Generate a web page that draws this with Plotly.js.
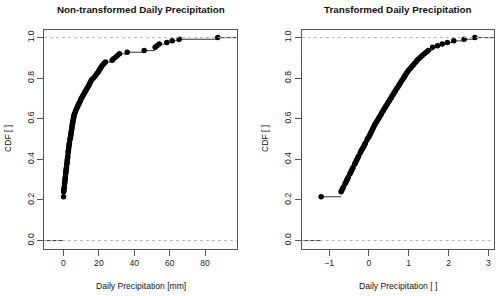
<!DOCTYPE html>
<html>
<head>
<meta charset="utf-8">
<script src="https://cdn.plot.ly/plotly-3.0.1.min.js"></script>
<style>html,body{margin:0;padding:0;background:#fff;}#chart{width:500px;height:296px;}</style>
</head>
<body>
<div id="chart"></div>
<script>
// ECDF levels (shared, transform is monotone)
const cdfLevels = [0.216, 0.240, 0.248, 0.256, 0.264, 0.280, 0.288, 0.296, 0.304, 0.312,
  0.328, 0.336, 0.344, 0.352, 0.360, 0.376, 0.384, 0.392, 0.400, 0.408,
  0.416, 0.432, 0.440, 0.448, 0.456, 0.464, 0.472, 0.480, 0.496, 0.504,
  0.512, 0.520, 0.528, 0.536, 0.544, 0.552, 0.560, 0.568, 0.576, 0.584,
  0.592, 0.600, 0.608, 0.616, 0.624, 0.632, 0.640, 0.648, 0.656, 0.664,
  0.672, 0.680, 0.688, 0.696, 0.704, 0.712, 0.720, 0.728, 0.736, 0.744,
  0.752, 0.760, 0.768, 0.776, 0.784, 0.792, 0.800, 0.808, 0.816, 0.824,
  0.832, 0.840, 0.848, 0.856, 0.864, 0.872, 0.880, 0.888, 0.896, 0.904,
  0.912, 0.920, 0.928, 0.936, 0.952, 0.960, 0.968, 0.976, 0.984, 0.992, 1.000];

// Non-transformed daily precipitation [mm] (unique sorted values)
const precipMm = [0, 0.1, 0.2, 0.3, 0.4, 0.6, 0.7, 0.8, 0.9, 1.0,
  1.2, 1.3, 1.4, 1.5, 1.7, 1.9, 2.0, 2.1, 2.2, 2.3,
  2.4, 2.6, 2.7, 2.8, 2.9, 3.0, 3.2, 3.3, 3.6, 3.8,
  4.0, 4.1, 4.2, 4.4, 4.5, 4.7, 4.8, 4.9, 5.1, 5.3,
  5.4, 5.6, 5.8, 5.9, 6.2, 6.6, 6.9, 7.3, 7.7, 8.1,
  8.6, 9.0, 9.5, 9.8, 10.3, 10.8, 11.4, 11.9, 12.4, 12.9,
  13.5, 14.0, 14.5, 14.9, 15.4, 15.9, 16.8, 17.7, 18.3, 19.0,
  19.7, 20.2, 20.8, 21.4, 22.0, 22.9, 23.7, 27.5, 28.3, 29.6,
  30.5, 31.6, 36.0, 45.6, 51.8, 52.8, 54.1, 58.4, 61.4, 65.4, 87.2];

// Transformed daily precipitation [ ]
const precipTransformed = [-1.20, -0.70, -0.68, -0.66, -0.64, -0.60, -0.58, -0.56, -0.54, -0.52,
  -0.48, -0.46, -0.44, -0.42, -0.40, -0.36, -0.34, -0.32, -0.30, -0.28,
  -0.26, -0.22, -0.20, -0.18, -0.15, -0.13, -0.11, -0.09, -0.05, -0.03,
  0.00, 0.02, 0.04, 0.06, 0.08, 0.10, 0.12, 0.14, 0.16, 0.19,
  0.21, 0.24, 0.26, 0.29, 0.31, 0.33, 0.36, 0.38, 0.41, 0.43,
  0.46, 0.48, 0.51, 0.53, 0.56, 0.58, 0.61, 0.63, 0.66, 0.68,
  0.71, 0.74, 0.76, 0.79, 0.81, 0.84, 0.87, 0.89, 0.92, 0.94,
  0.97, 1.00, 1.04, 1.07, 1.11, 1.14, 1.18, 1.21, 1.25, 1.30,
  1.34, 1.39, 1.44, 1.49, 1.60, 1.72, 1.84, 1.97, 2.13, 2.39, 2.66];

const precipTicks = [0, 20, 40, 60, 80];
const transTicks = [-1, 0, 1, 2, 3];
const cdfTicks = [0, 0.2, 0.4, 0.6, 0.8, 1.0];
const cdfTickText = ['0.0', '0.2', '0.4', '0.6', '0.8', '1.0'];
const refLevels = [0, 1];

// R-like limits for plot.stepfun + 4% extension
function stepLimits(xs) {
  const lo = Math.min(...xs), hi = Math.max(...xs);
  const dr = 0.08 * (hi - lo);
  const a = lo - dr, b = hi + dr, e = 0.04 * (b - a);
  return [a - e, b + e];
}
function stepSegments(xs, ys, lim) {
  const X = [lim[0] - 1e3, xs[0], null], Y = [0, 0, null];
  for (let i = 0; i < xs.length; i++) {
    X.push(xs[i], i < xs.length - 1 ? xs[i + 1] : lim[1] + 1e3, null);
    Y.push(ys[i], ys[i], null);
  }
  return {X, Y};
}

const FONT = 'Liberation Sans, Arial, Helvetica, sans-serif';
const limL = stepLimits(precipMm);
const limR = stepLimits(precipTransformed);
const segL = stepSegments(precipMm, cdfLevels, limL);
const segR = stepSegments(precipTransformed, cdfLevels, limR);

const lineStyle = {color: '#333', width: 1};
const markerStyle = {color: '#000', size: 5.5};

const traces = [
  {x: segL.X, y: segL.Y, xaxis: 'x', yaxis: 'y', mode: 'lines', line: lineStyle, hoverinfo: 'skip', showlegend: false, cliponaxis: true},
  {x: precipMm, y: cdfLevels, xaxis: 'x', yaxis: 'y', mode: 'markers', marker: markerStyle, showlegend: false},
  {x: segR.X, y: segR.Y, xaxis: 'x2', yaxis: 'y2', mode: 'lines', line: lineStyle, hoverinfo: 'skip', showlegend: false},
  {x: precipTransformed, y: cdfLevels, xaxis: 'x2', yaxis: 'y2', mode: 'markers', marker: markerStyle, showlegend: false}
];

const axBase = {
  showline: true, mirror: true, linecolor: '#555', linewidth: 1,
  ticks: 'outside', ticklen: 6, tickwidth: 1, tickcolor: '#555',
  showgrid: false, zeroline: false, tickfont: {family: FONT, size: 8.6, color: '#222'}
};
const H = 296;
const yDom = [(H - 248.7) / H, (H - 29.5) / H];

const shapes = [];
[['x', 'y'], ['x2', 'y2']].forEach(([xa, ya]) => {
  refLevels.forEach(v => shapes.push({
    type: 'line', xref: xa + ' domain', yref: ya, x0: 0, x1: 1, y0: v, y1: v,
    line: {color: '#b3b3b3', width: 1, dash: '3px,3px'}, layer: 'above'
  }));
});

const ann = (text, x, y, size, opts) => Object.assign({
  text, x, y, xref: 'paper', yref: 'paper', showarrow: false,
  xanchor: 'center', yanchor: 'middle', font: {family: FONT, size, color: '#111'}
}, opts || {});

const layout = {
  width: 500, height: 296,
  margin: {l: 0, r: 0, t: 0, b: 0},
  paper_bgcolor: '#fff', plot_bgcolor: '#fff',
  showlegend: false,
  xaxis: Object.assign({}, axBase, {domain: [44 / 500, 237.3 / 500], range: limL, tickvals: precipTicks, anchor: 'y'}),
  yaxis: Object.assign({}, axBase, {domain: yDom, range: [-0.04, 1.04], tickvals: cdfTicks, ticktext: cdfTickText, tickangle: -90, anchor: 'x'}),
  xaxis2: Object.assign({}, axBase, {domain: [301.7 / 500, 494.3 / 500], range: limR, tickvals: transTicks, anchor: 'y2'}),
  yaxis2: Object.assign({}, axBase, {domain: yDom, range: [-0.04, 1.04], tickvals: cdfTicks, ticktext: cdfTickText, tickangle: -90, anchor: 'x2'}),
  shapes,
  annotations: [
    ann('Non-transformed Daily Precipitation', 140.6 / 500, 1 - 10 / H, 9.8, {font: {family: FONT, size: 9.8, color: '#111', weight: 700}}),
    ann('Transformed Daily Precipitation', 398 / 500, 1 - 10 / H, 9.8, {font: {family: FONT, size: 9.8, color: '#111', weight: 700}}),
    ann('Daily Precipitation [mm]', 140.6 / 500, 1 - 286 / H, 8.6),
    ann('Daily Precipitation [ ]', 398 / 500, 1 - 286 / H, 8.6),
    ann('CDF [ ]', 8 / 500, 1 - 139 / H, 8.6, {textangle: -90}),
    ann('CDF [ ]', 265 / 500, 1 - 139 / H, 8.6, {textangle: -90})
  ]
};

Plotly.newPlot('chart', traces, layout, {staticPlot: true, displayModeBar: false});
</script>
</body>
</html>
